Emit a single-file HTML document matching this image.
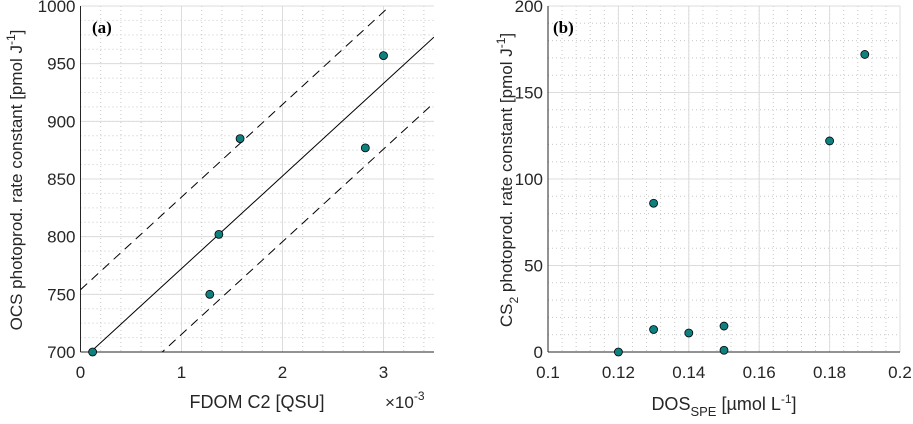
<!DOCTYPE html>
<html><head><meta charset="utf-8"><style>
body{margin:0;background:#fff}
svg{display:block;font-family:"Liberation Sans",Arial,sans-serif}
</style></head><body>
<svg id="c" width="913" height="424" xmlns="http://www.w3.org/2000/svg"></svg>
<script>
const aX=[0.12,1.28,1.37,1.58,2.82,3.0];
const aY=[700,750,802,885,877,957];
const aFitSlope=80.3, aFitIntercept=692, aBandUp=62, aBandLow=-57;
const aXTicks=[0,1,2,3];
const aYTicks=[700,750,800,850,900,950,1000];
const bX=[0.12,0.13,0.13,0.14,0.15,0.15,0.18,0.19];
const bY=[0,13,86,11,15,1,122,172];
const bXTicks=[0.1,0.12,0.14,0.16,0.18,0.2];
const bYTicks=[0,50,100,150,200];

const NS="http://www.w3.org/2000/svg";
const svg=document.getElementById('c');
function el(t,a,p){const e=document.createElementNS(NS,t);for(const k in a)e.setAttribute(k,a[k]);(p||svg).appendChild(e);return e;}

function panel(o){
  const g=el('g',{});
  
  
  const sx=v=>o.l+(v-o.x0)/(o.x1-o.x0)*(o.r-o.l);
  const sy=v=>o.b-(v-o.y0)/(o.y1-o.y0)*(o.b-o.t);
  for(let v=o.x0;v<=o.x1+1e-9;v+=o.xm){el('line',{x1:sx(v),x2:sx(v),y1:o.t,y2:o.b,stroke:'#c8c8c8','stroke-width':1,'stroke-dasharray':'1,3'},g);}
  for(let v=o.y0;v<=o.y1+1e-9;v+=o.ym){el('line',{x1:o.l,x2:o.r,y1:sy(v),y2:sy(v),stroke:'#c8c8c8','stroke-width':1,'stroke-dasharray':'1,3'},g);}
  o.xt.forEach(v=>{
    el('line',{x1:sx(v),x2:sx(v),y1:o.t,y2:o.b,stroke:'#dcdcdc','stroke-width':1},g);
    const t=el('text',{x:sx(v),y:o.b+26,'text-anchor':'middle','font-size':17,fill:'#262626'},g);
    t.textContent=o.xf(v);
    
    
  });
  o.yt.forEach(v=>{
    el('line',{x1:o.l,x2:o.r,y1:sy(v),y2:sy(v),stroke:'#dcdcdc','stroke-width':1},g);
    const t=el('text',{x:o.l-5,y:sy(v)+6,'text-anchor':'end','font-size':17,fill:'#262626'},g);
    t.textContent=v;
    
    
  });
  el('line',{x1:o.l,x2:o.r,y1:o.b,y2:o.b,stroke:'#262626','stroke-width':1},g);
  el('line',{x1:o.l,x2:o.l,y1:o.t,y2:o.b,stroke:'#262626','stroke-width':1},g);
  return {g,sx,sy};
}

const A={name:'panel-a',l:80.5,r:434,t:6,b:352,x0:0,x1:3.5,y0:700,y1:1000,xm:0.2,ym:12.5,xt:aXTicks,yt:aYTicks,xf:v=>v};
const pa=panel(A);
const clip=el('clipPath',{id:'ca'});el('rect',{x:A.l,y:A.t,width:A.r-A.l,height:A.b-A.t},clip);
function fitLine(off,dash,name){
  const x0=0,x1=3.5;
  const l=el('line',{x1:pa.sx(x0),y1:pa.sy(aFitIntercept+off+aFitSlope*x0),x2:pa.sx(x1),y2:pa.sy(aFitIntercept+off+aFitSlope*x1),stroke:'#000','stroke-width':1,'clip-path':'url(#ca)'},pa.g);
  if(dash)l.setAttribute('stroke-dasharray','9,6');
  
  
}
fitLine(0,false,'regression-line');
fitLine(aBandUp,true,'upper-bound-line');
fitLine(aBandLow,true,'lower-bound-line');
aX.forEach((x,i)=>{
  const c=el('circle',{cx:pa.sx(x),cy:pa.sy(aY[i]),r:4,fill:'#0f8080',stroke:'#000','stroke-width':0.8},pa.g);
  
  
});

const B={name:'panel-b',l:548,r:900,t:6,b:352,x0:0.1,x1:0.2,y0:0,y1:200,xm:0.004,ym:10,xt:bXTicks,yt:bYTicks,xf:v=>String(+v.toFixed(2))};
const pb=panel(B);
bX.forEach((x,i)=>{
  const c=el('circle',{cx:pb.sx(x),cy:pb.sy(bY[i]),r:4,fill:'#0f8080',stroke:'#000','stroke-width':0.8},pb.g);
  
  
});
</script>
<svg width="913" height="424" style="position:absolute;left:0;top:0" xmlns="http://www.w3.org/2000/svg" font-family="Liberation Sans, Arial, sans-serif">
  <text x="92" y="33" font-family="Liberation Serif, serif" font-weight="bold" font-size="17">(a)</text>
  <text x="553" y="33" font-family="Liberation Serif, serif" font-weight="bold" font-size="17">(b)</text>
  <text x="257" y="408" text-anchor="middle" font-size="18" fill="#262626">FDOM C2 [QSU]</text>
  <text x="385" y="408" font-size="17" fill="#262626">×10<tspan dy="-8" font-size="12">-3</tspan></text>
  <text transform="translate(22,180) rotate(-90)" text-anchor="middle" font-size="17" fill="#262626">OCS photoprod. rate constant [pmol J<tspan dy="-7" font-size="12">-1</tspan><tspan dy="7">]</tspan></text>
  <text x="724" y="410" text-anchor="middle" font-size="18" fill="#262626">DOS<tspan dy="6" font-size="13">SPE</tspan><tspan dy="-6"> [µmol L</tspan><tspan dy="-7" font-size="12">-1</tspan><tspan dy="7">]</tspan></text>
  <text transform="translate(512,180) rotate(-90)" text-anchor="middle" font-size="17" fill="#262626">CS<tspan dy="6" font-size="12">2</tspan><tspan dy="-6"> photoprod. rate constant [pmol J</tspan><tspan dy="-7" font-size="12">-1</tspan><tspan dy="7">]</tspan></text>
</svg>
</body></html>
